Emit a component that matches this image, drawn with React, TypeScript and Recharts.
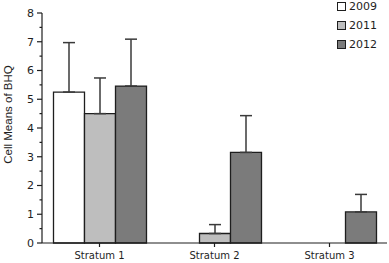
import { BarChart, Bar, XAxis, YAxis, ErrorBar, Legend, Label } from 'recharts';

const strata = ['Stratum 1', 'Stratum 2', 'Stratum 3'];
const years = ['2009', '2011', '2012'];
const mean2009 = [5.25, null, null];
const mean2011 = [4.5, 0.33, null];
const mean2012 = [5.46, 3.15, 1.08];
// one-sided (upper) error bars
const err2009 = [1.72, null, null];
const err2011 = [1.24, 0.31, null];
const err2012 = [1.63, 1.28, 0.61];
const yTicks = [0, 0.5, 1, 1.5, 2, 2.5, 3, 3.5, 4, 4.5, 5, 5.5, 6, 6.5, 7, 7.5, 8];

const fills = ['#ffffff', '#bebebe', '#7b7b7b'];
const ink = '#1e1e1e';
const tickFont = '"DejaVu Sans", sans-serif';

const up = (e: number | null) => (e == null ? null : [0, e]);

const data = strata.map((s, i) => ({
  stratum: s,
  y2009: mean2009[i],
  y2011: mean2011[i],
  y2012: mean2012[i],
  e2009: up(err2009[i]),
  e2011: up(err2011[i]),
  e2012: up(err2012[i]),
}));

const YTick = (props: any) => {
  const { x, y, payload } = props;
  const major = Number.isInteger(payload.value);
  return (
    <g>
      <line x1={x - (major ? 5 : 2.5)} x2={x} y1={y} y2={y} stroke={ink} strokeWidth={1.2} />
      {major && (
        <text x={x - 8} y={y} dy="0.36em" textAnchor="end" fontSize={11} fontFamily={tickFont} fill={ink}>
          {payload.value}
        </text>
      )}
    </g>
  );
};

const YLabel = () => (
  <text
    x={11.5}
    y={114.5}
    transform="rotate(-90, 11.5, 114.5)"
    textAnchor="middle"
    fontSize={11.5}
    fontFamily='"Liberation Sans", Arial, sans-serif'
    fill={ink}
  >
    Cell Means of BHQ
  </text>
);

const LegendBox = ({ payload }: any) => (
  <div style={{ fontFamily: tickFont, fontSize: 11, color: ink }}>
    {(payload || []).map((p: any, i: number) => (
      <div key={p.value} style={{ display: 'flex', alignItems: 'center', height: 19 }}>
        <span
          style={{
            display: 'inline-block',
            boxSizing: 'border-box',
            width: 9,
            height: 9,
            border: `1.2px solid ${ink}`,
            background: fills[i],
            marginRight: 3,
          }}
        />
        <span>{p.value}</span>
      </div>
    ))}
  </div>
);

export default function App() {
  return (
    <div style={{ position: 'absolute', left: 0, top: 0, background: '#fff' }}>
      <BarChart
        width={389}
        height={263}
        data={data}
        margin={{ top: 13, right: 2, left: 0, bottom: 0 }}
        barGap={0}
        barCategoryGap="10%"
      >
        <XAxis
          dataKey="stratum"
          height={20}
          tickSize={4}
          tickMargin={5}
          axisLine={{ stroke: ink, strokeWidth: 1.2 }}
          tickLine={{ stroke: ink, strokeWidth: 1.2 }}
          tick={{ fontSize: 10, fontFamily: tickFont, fill: ink }}
        />
        <YAxis
          width={42}
          domain={[0, 8]}
          ticks={yTicks}
          interval={0}
          tickSize={0}
          tickMargin={0}
          tickLine={false}
          axisLine={{ stroke: ink, strokeWidth: 1.2 }}
          tick={<YTick />}
        >
          <Label content={<YLabel />} />
        </YAxis>
        <Legend
          layout="vertical"
          align="center"
          verticalAlign="middle"
          wrapperStyle={{ left: 337, top: -3 }}
          content={<LegendBox />}
        />
        <Bar dataKey="y2009" name={years[0]} fill={fills[0]} stroke={ink} strokeWidth={1.3} isAnimationActive={false}>
          <ErrorBar dataKey="e2009" width={6} stroke="#3a3a3a" strokeWidth={1.5} direction="y" />
        </Bar>
        <Bar dataKey="y2011" name={years[1]} fill={fills[1]} stroke={ink} strokeWidth={1.3} isAnimationActive={false}>
          <ErrorBar dataKey="e2011" width={6} stroke="#3a3a3a" strokeWidth={1.5} direction="y" />
        </Bar>
        <Bar dataKey="y2012" name={years[2]} fill={fills[2]} stroke={ink} strokeWidth={1.3} isAnimationActive={false}>
          <ErrorBar dataKey="e2012" width={6} stroke="#3a3a3a" strokeWidth={1.5} direction="y" />
        </Bar>
      </BarChart>
    </div>
  );
}
